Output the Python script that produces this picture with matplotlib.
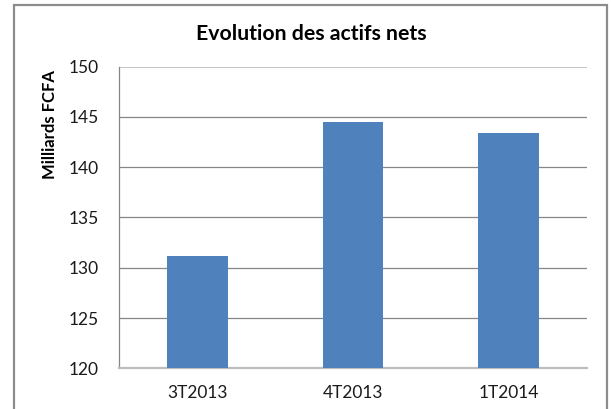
import matplotlib.pyplot as plt
from matplotlib.patches import Rectangle

categories = ['3T2013', '4T2013', '1T2014']
values = [131.2, 144.5, 143.4]
y_ticks = [120, 125, 130, 135, 140, 145, 150]

plt.rcParams['font.family'] = ['Lato', 'DejaVu Sans']

W, H = 611, 409
fig = plt.figure(figsize=(W / 100, H / 100), dpi=100)

# outer chart frame (bottom edge cut off in the reference)
fig.patches.append(Rectangle((13.5 / W, -0.05), (607 - 13.5) / W, 1.05 - 4.7 / H,
                             transform=fig.transFigure, fill=False,
                             edgecolor='#8c8c8c', lw=1.6))

ax = fig.add_axes([119.3 / W, 1 - 368.3 / H, (586.7 - 119.3) / W, (368.3 - 66.7) / H])

x = range(len(categories))
ax.bar(x, values, width=0.39, color='#4f81bd', zorder=3)
ax.set_xlim(-0.5, len(categories) - 0.5)
ax.set_ylim(120, 150)
ax.set_yticks(y_ticks)
ax.set_xticks(list(x))
ax.set_xticklabels(categories)

for t in y_ticks[1:-1]:
    ax.axhline(t, color='#868686', lw=0.9, zorder=1)
ax.axhline(150, color='#c4c4c4', lw=1.4, zorder=1)

for s in ['top', 'right']:
    ax.spines[s].set_visible(False)
ax.spines['left'].set_color('#868686')
ax.spines['left'].set_linewidth(0.9)
ax.spines['bottom'].set_color('#bdbdbd')
ax.spines['bottom'].set_linewidth(1.6)
ax.tick_params(axis='both', length=0, labelsize=12.5, colors='#1a1a1a')
ax.tick_params(axis='y', pad=15)
ax.tick_params(axis='x', pad=12)

fig.text(311 / W, 1 - 34 / H, 'Evolution des actifs nets', ha='center', va='center',
         fontsize=15.3, fontweight='bold')
fig.text(50 / W, 1 - 125 / H, 'Milliards FCFA', ha='center', va='center', rotation=90,
         fontsize=12, fontweight='bold')

fig.savefig('out.png', dpi=100)
